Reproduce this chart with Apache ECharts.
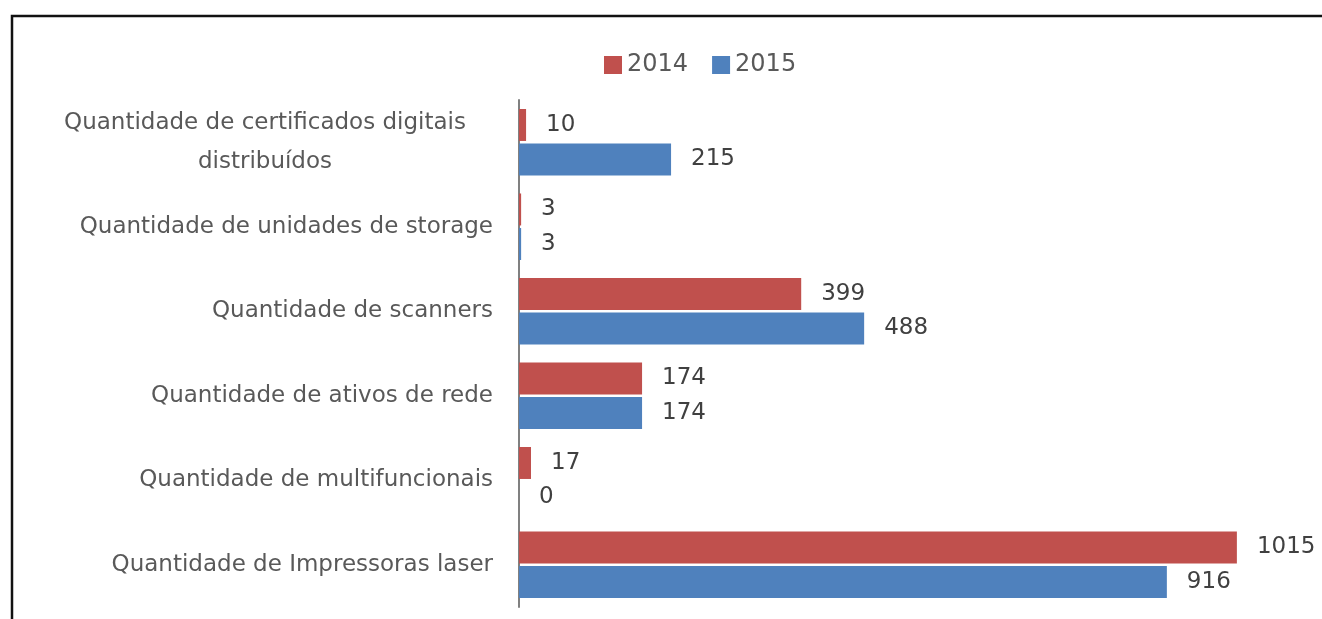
<!DOCTYPE html>
<html>
<head>
<meta charset="utf-8">
<script src="https://cdn.jsdelivr.net/npm/echarts@6/dist/echarts.min.js"></script>
<style>
  html, body { margin: 0; padding: 0; background: #fff; }
  #chart { width: 1322px; height: 619px; }
</style>
</head>
<body>
<div id="chart"></div>
<script>
var categories = [
  "Quantidade de certificados digitais\ndistribuídos",
  "Quantidade de unidades de storage",
  "Quantidade de scanners",
  "Quantidade de ativos de rede",
  "Quantidade de multifuncionais",
  "Quantidade de Impressoras laser"
];
var values2014 = [10, 3, 399, 174, 17, 1015];
var values2015 = [215, 3, 488, 174, 0, 916];

var chart = echarts.init(document.getElementById("chart"));
var font = "DejaVu Sans";

function barLabel() {
  return {
    show: true,
    position: "right",
    distance: 20,
    color: "#404040",
    fontSize: 23,
    fontFamily: font,
  };
}

var option = {
  animation: false,
  backgroundColor: "#fff",
  graphic: [
    {
      type: "rect",
      shape: { x: 12, y: 16, width: 1400, height: 700 },
      style: { fill: "none", stroke: "#111", lineWidth: 2.5 },
      silent: true,
    },
  ],
  legend: {
    data: ["2014", "2015"],
    top: 48,
    left: 599,
    itemWidth: 18,
    itemHeight: 18,
    itemGap: 24,
    icon: "rect",
    itemStyle: { borderWidth: 0 },
    textStyle: { color: "#595959", fontSize: 24, fontFamily: font },
  },
  grid: {
    left: 519,
    right: 25,
    top: 100,
    bottom: 12,
    containLabel: false,
  },
  xAxis: {
    type: "value",
    min: 0,
    max: 1100,
    show: false,
  },
  yAxis: {
    type: "category",
    inverse: true,
    data: categories,
    axisTick: { show: false },
    axisLine: { lineStyle: { color: "#808080", width: 2 } },
    axisLabel: {
      margin: 26,
      color: "#595959",
      fontSize: 23,
      fontFamily: font,
      lineHeight: 39,
      formatter: function (v) {
        if (v.indexOf("\n") < 0) return v;
        return v.split("\n").map(function (l) { return "{c|" + l + "}"; }).join("\n");
      },
      rich: {
        c: { width: 456, align: "center", color: "#595959", fontSize: 23, fontFamily: font, lineHeight: 39 },
      },
    },
  },
  series: [
    {
      name: "2014",
      type: "bar",
      data: values2014,
      barWidth: 32,
      barGap: "8%",
      itemStyle: { color: "#C0504D" },
      label: barLabel(),
    },
    {
      name: "2015",
      type: "bar",
      data: values2015,
      barWidth: 32,
      itemStyle: { color: "#4F81BD" },
      label: barLabel(),
    },
  ],
};
chart.setOption(option);
</script>
</body>
</html>
